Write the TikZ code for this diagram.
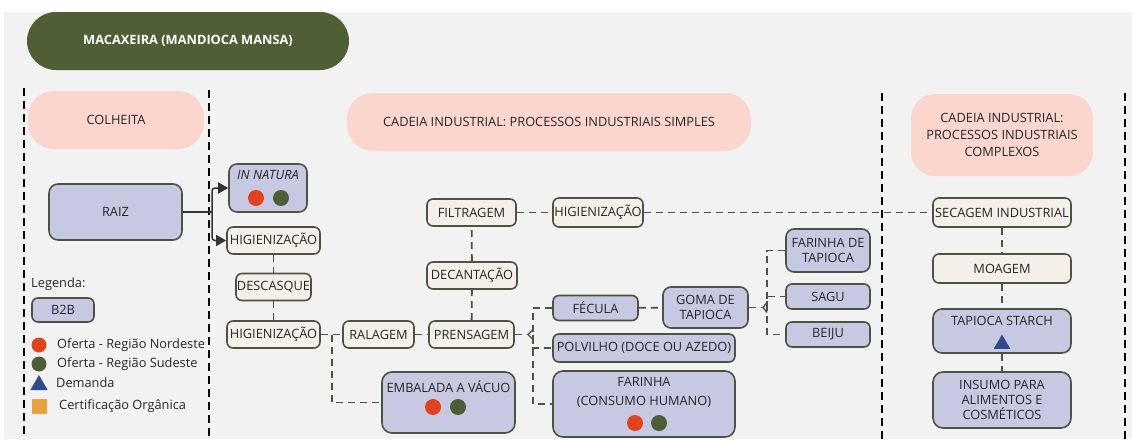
\documentclass[tikz,border=0pt]{standalone}
\usepackage{fontspec}
\setmainfont{Open Sans}
\usetikzlibrary{arrows.meta,shapes.geometric,calc}

\definecolor{bgc}{HTML}{F2F2F2}
\definecolor{titlec}{HTML}{4F5E35}
\definecolor{pinkc}{HTML}{FAD6CF}
\definecolor{lavc}{HTML}{C7C9E2}
\definecolor{creamc}{HTML}{F5EFEA}
\definecolor{edgec}{HTML}{4D5242}
\definecolor{textc}{HTML}{262626}
\definecolor{redc}{HTML}{E2431E}
\definecolor{greenc}{HTML}{4C5F34}
\definecolor{bluec}{HTML}{2E4B8B}
\definecolor{orangec}{HTML}{E9A23B}

\newcommand{\boxfont}{\fontsize{12.8}{15}\selectfont}

\tikzset{
  basebox/.style={draw=edgec, line width=1.6pt, rounded corners=6pt, inner sep=0pt,
    text=textc, font=\boxfont, align=center},
  cbox/.style={basebox, fill=creamc},
  lbox/.style={basebox, fill=lavc},
  pill/.style={fill=pinkc, rounded corners=26pt, text=textc,
    font=\fontsize{12.8}{17}\selectfont, align=center, inner sep=0pt},
  titlepill/.style={fill=titlec, rounded corners=29pt, text=white,
    font=\bfseries\fontsize{12.8}{15}\selectfont, inner sep=0pt},
  lbl/.style={text=textc, font=\boxfont, inner sep=0pt},
  dcon/.style={draw=edgec, line width=1.8pt, dash pattern=on 7pt off 5pt},
  brace/.style={draw=edgec, line width=1.4pt, line join=round},
  acon/.style={draw=black!80, line width=1.5pt, rounded corners=3pt,
    -{Triangle[length=10pt,width=11pt]}},
  sepline/.style={draw=black, line width=1.9pt, dash pattern=on 8pt off 5pt},
  dotr/.style={circle, fill=redc, minimum size=16pt, inner sep=0pt},
  dotg/.style={circle, fill=greenc, minimum size=16pt, inner sep=0pt},
}

\begin{document}
\begin{tikzpicture}[x=1pt,y=-1pt]
\useasboundingbox (0,0) rectangle (1132,439);
\fill[white] (0,0) rectangle (1132,439);
\fill[bgc] (4,12) rectangle (1132,439);

% column separators
\draw[sepline] (24,88) -- (24,439);
\draw[sepline] (209,90) -- (209,439);
\draw[sepline] (882,93) -- (882,439);
\draw[sepline] (1125,93) -- (1125,439);

% headers
\node[titlepill, minimum width=322pt, minimum height=58pt] (titulo) at (188,41) {MACAXEIRA (MANDIOCA MANSA)};
\node[pill, minimum width=176pt, minimum height=58pt] (colheita) at (116,120) {COLHEITA};
\node[pill, minimum width=404pt, minimum height=58pt] (simples) at (549,122) {CADEIA INDUSTRIAL: PROCESSOS INDUSTRIAIS SIMPLES};
\node[pill, minimum width=182pt, minimum height=82pt, rounded corners=24pt] (complexos) at (1002,135)
  {CADEIA INDUSTRIAL:\\PROCESSOS INDUSTRIAIS\\COMPLEXOS};

% harvest
\node[lbox, minimum width=133pt, minimum height=56pt, rounded corners=9pt] (raiz) at (115.5,212) {RAIZ};

% simple industrial chain
\node[lbox, minimum width=78pt, minimum height=48pt, rounded corners=8pt] (innat) at (268,188) {};
\node[lbl] (innat-t) at (268,175) {\itshape IN NATURA};
\node[dotr] (innat-r) at (256,198) {};
\node[dotg] (innat-g) at (281,198) {};

\node[cbox, minimum width=93pt, minimum height=27pt] (hig1) at (273.5,240.5) {HIGIENIZAÇÃO};
\node[cbox, minimum width=75pt, minimum height=27pt] (desc) at (273.5,287) {DESCASQUE};
\node[cbox, minimum width=93pt, minimum height=27pt] (hig2) at (273.5,334.5) {HIGIENIZAÇÃO};
\node[cbox, minimum width=71pt, minimum height=27pt] (ral) at (378.5,334.5) {RALAGEM};
\node[cbox, minimum width=85pt, minimum height=27pt] (pren) at (471.5,334.5) {PRENSAGEM};
\node[cbox, minimum width=90pt, minimum height=27pt] (dec) at (472,275.5) {DECANTAÇÃO};
\node[cbox, minimum width=89pt, minimum height=27pt] (filt) at (471.5,212.5) {FILTRAGEM};
\node[cbox, minimum width=90pt, minimum height=29pt] (hig3) at (598,212.5) {HIGIENIZAÇÃO};

\node[lbox, minimum width=133pt, minimum height=61pt, rounded corners=10pt] (emb) at (448.5,402.5) {};
\node[lbl] (emb-t) at (448.5,387) {EMBALADA A VÁCUO};
\node[dotr] (emb-r) at (433,407) {};
\node[dotg] (emb-g) at (458,407) {};

\node[lbox, minimum width=85pt, minimum height=25pt] (fec) at (595.5,308) {FÉCULA};
\node[lbox, minimum width=85pt, minimum height=41pt, rounded corners=8pt] (goma) at (705.5,307.5) {GOMA DE\\TAPIOCA};
\node[lbox, minimum width=182pt, minimum height=28pt] (polv) at (644,348) {POLVILHO (DOCE OU AZEDO)};
\node[lbox, minimum width=182pt, minimum height=66pt, rounded corners=10pt] (far) at (644,404) {};
\node[lbl, align=center, font=\fontsize{12.8}{19}\selectfont] (far-t) at (644,392.5) {FARINHA\\(CONSUMO HUMANO)};
\node[dotr] (far-r) at (635,423) {};
\node[dotg] (far-g) at (659,423) {};

\node[lbox, minimum width=84pt, minimum height=43pt, rounded corners=8pt] (fartap) at (828,250.5) {FARINHA DE\\TAPIOCA};
\node[lbox, minimum width=84pt, minimum height=25pt] (sagu) at (828,296.5) {SAGU};
\node[lbox, minimum width=84pt, minimum height=25pt] (beiju) at (828,334.5) {BEIJU};

% complex industrial chain
\node[cbox, minimum width=138pt, minimum height=29pt] (sec) at (1002,212.5) {SECAGEM INDUSTRIAL};
\node[cbox, minimum width=138pt, minimum height=29pt] (moa) at (1002,268.5) {MOAGEM};
\node[lbox, minimum width=138pt, minimum height=44pt, rounded corners=9pt] (ts) at (1002,331) {};
\node[lbl] (ts-t) at (1002,321) {TAPIOCA STARCH};
\node[regular polygon, regular polygon sides=3, fill=bluec, minimum size=19pt, inner sep=0pt] (ts-d) at (1002,344) {};
\node[lbox, minimum width=138pt, minimum height=56pt, rounded corners=10pt] (ins) at (1002,400) {INSUMO PARA\\ALIMENTOS E\\COSMÉTICOS};

% legend
\node[lbl, anchor=west] (leg) at (31,284) {Legenda:};
\node[lbox, minimum width=62pt, minimum height=24pt] (b2b) at (63,310) {B2B};
\node[dotr, minimum size=15pt] (leg-r) at (39,345) {};
\node[lbl, anchor=west] (leg-rt) at (57,345) {Oferta - Região Nordeste};
\node[dotg, minimum size=15pt] (leg-g) at (39,364) {};
\node[lbl, anchor=west] (leg-gt) at (57,364) {Oferta - Região Sudeste};
\node[regular polygon, regular polygon sides=3, fill=bluec, minimum size=20pt, inner sep=0pt] (leg-d) at (39,385) {};
\node[lbl, anchor=west] (leg-dt) at (56,383) {Demanda};
\node[fill=orangec, minimum size=15pt, inner sep=0pt] (leg-o) at (39,406) {};
\node[lbl, anchor=west] (leg-ot) at (59,406) {Certificação Orgânica};

% harvest split
\coordinate (jr) at (212,212);
\draw[draw=black!80, line width=1.5pt] (raiz.east) -- (jr);
\draw[acon] (jr) |- (innat.west);
\draw[acon] (jr) |- (hig1.west);

% process flow
\draw[dcon] (hig1) -- (desc);
\draw[dcon] (desc) -- (hig2);
\draw[dcon] (hig2) -- (ral);
\coordinate (je) at (332,334.5);
\draw[dcon] (je) |- (emb.west);
\draw[dcon] (ral) -- (pren);
\draw[dcon] (pren) -- (dec);
\draw[dcon] (dec) -- (filt);
\draw[dcon] (filt) -- (hig3);
\draw[dcon] (hig3) -- (sec);
\draw[dcon] (sec) -- (moa);
\draw[dcon] (moa) -- (ts);
\draw[dcon] (ts) -- (ins);
\draw[dcon] (fec) -- (goma);

% split after pressing
\coordinate (b1) at (533,334.5);
\coordinate (b1t) at (528,334.5);
\draw[dcon] (pren.east) -- (b1t);
\draw[brace] ($(b1)+(0,-5)$) -- (b1t) -- ($(b1)+(0,5)$);
\draw[dcon] (fec.west) -| (b1) |- (far.west);
\draw[dcon] (b1) |- (polv.west);

% split after tapioca gum
\coordinate (b2) at (767,307.5);
\coordinate (b2t) at (763,307.5);
\draw[dcon] (goma.east) -- (b2t);
\draw[brace] ($(b2)+(0,-5)$) -- (b2t) -- ($(b2)+(0,5)$);
\draw[dcon] (fartap.west) -| (b2) |- (beiju.west);
\draw[dcon] (b2) |- (sagu.west);
\end{tikzpicture}
\end{document}
